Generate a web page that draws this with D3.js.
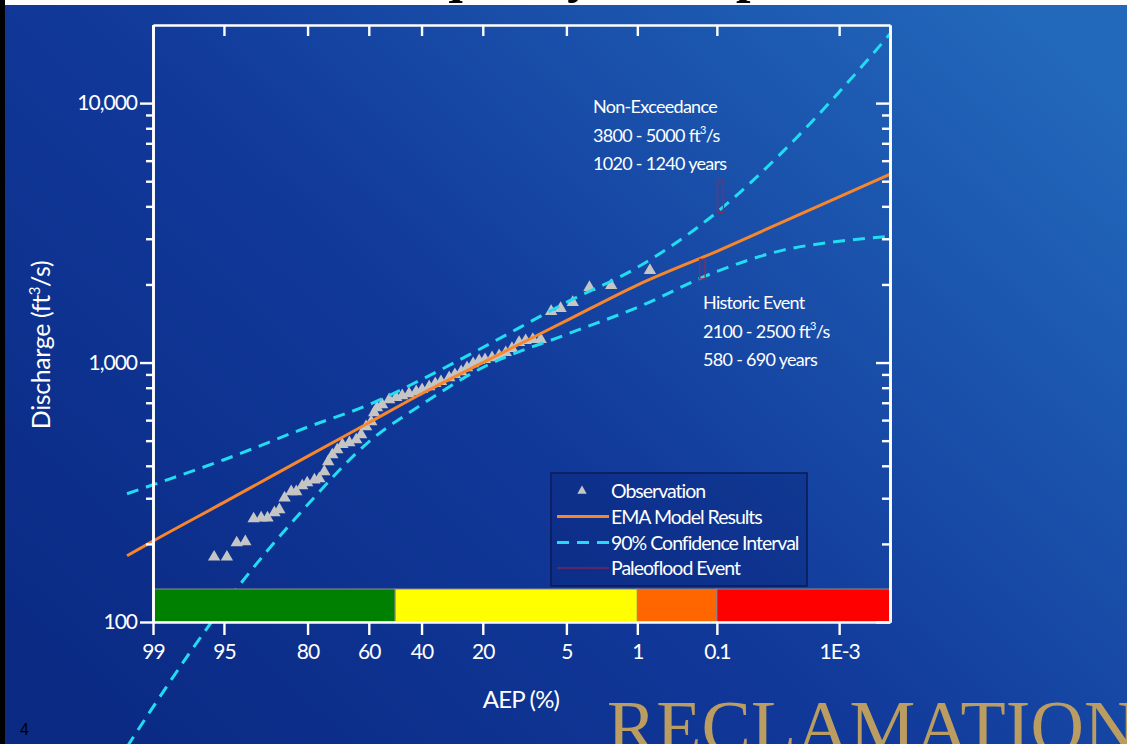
<!DOCTYPE html>
<html><head><meta charset="utf-8">
<script src="https://cdn.jsdelivr.net/npm/d3@7"></script>
<style>
html,body{margin:0;padding:0;background:#000;}
svg{display:block;}
</style></head>
<body>
<svg id="chart" width="1127" height="744"></svg>
<script>
// ---------------- DATA ----------------
// AEP grid (%) for the fitted curve and confidence limits
const aepGrid = [99.5, 99, 95, 80, 60, 40, 20, 5, 1, 0.1, 0.01, 0.001, 0.0001];
const emaQ    = [180, 205, 289, 435, 586, 758, 1000, 1450, 1989, 2685, 3477, 4350, 5315];
const upperQ  = [312, 338, 422, 564, 688, 860, 1143, 1705, 2327, 3795, 6470, 11030, 18470];
const lowerQ  = [33, 47, 116, 283, 495, 688, 957, 1283, 1631, 2245, 2707, 2933, 3066];

// Observations (plotting position AEP %, discharge ft3/s)
const obsAEP = [98.25, 95.9, 94.7, 93.6, 92.5, 91.3, 90.1, 89.0, 87.7, 86.7,
  85.6, 84.1, 82.9, 81.4, 80.1, 78.1, 76.7, 75.2, 74.0, 72.7,
  71.1, 69.4, 67.0, 64.6, 62.8, 61.0, 59.1, 58.0, 56.9, 55.0,
  52.3, 49.6, 47.3, 44.7, 42.0, 39.8, 37.2, 35.0, 33.0, 30.2,
  28.3, 26.3, 24.5, 22.7, 21.0, 19.4, 17.6, 15.9, 14.4, 13.1,
  11.7, 10.5, 9.3, 8.1, 6.7, 5.6, 4.4, 3.1, 1.9, 0.72];
const obsQ = [103, 178, 178, 202, 204, 250, 252, 252, 264, 271,
  301, 318, 318, 335, 344, 353, 357, 380, 415, 441,
  461, 483, 491, 504, 527, 566, 592, 641, 670, 688,
  720, 733, 746, 759, 773, 787, 808, 830, 845, 875,
  899, 923, 956, 991, 1018, 1027, 1045, 1064, 1093, 1133,
  1195, 1216, 1227, 1227, 1574, 1616, 1705, 1949, 1984, 2266];

// Paleoflood events
const paleoNames   = ["Non-Exceedance", "Historic Event"];
const paleoQLow    = [3800, 2100];
const paleoQHigh   = [5000, 2500];
const paleoYrLow   = [1020, 580];
const paleoYrHigh  = [1240, 690];

// Axes
const xTickAEP    = [99, 95, 80, 60, 40, 20, 5, 1, 0.1, 0.001];
const xTickLabels = ["99", "95", "80", "60", "40", "20", "5", "1", "0.1", "1E-3"];
const yMajor      = [100, 1000, 10000];
const yMinor      = [200,300,400,500,600,700,800,900,2000,3000,4000,5000,6000,7000,8000,9000];

// Risk zones (AEP % breaks) and colours
const zoneBreaks = [99, 50, 1, 0.1, 0.0001];
const zoneColors = ["#008000", "#ffff00", "#ff6600", "#ff0000"];

// --------------- HELPERS ---------------
function normInv(p){
  const a=[-3.969683028665376e+01,2.209460984245205e+02,-2.759285104469687e+02,1.383577518672690e+02,-3.066479806614716e+01,2.506628277459239e+00];
  const b=[-5.447609879822406e+01,1.615858368580409e+02,-1.556989798598866e+02,6.680131188771972e+01,-1.328068155288572e+01];
  const c=[-7.784894002430293e-03,-3.223964580411365e-01,-2.400758277161838e+00,-2.549732539343734e+00,4.374664141464968e+00,2.938163982698783e+00];
  const d=[7.784695709041462e-03,3.224671290700398e-01,2.445134137142996e+00,3.754408661907416e+00];
  const pl=0.02425, ph=1-pl; let q,r;
  if(p<pl){q=Math.sqrt(-2*Math.log(p));return (((((c[0]*q+c[1])*q+c[2])*q+c[3])*q+c[4])*q+c[5])/((((d[0]*q+d[1])*q+d[2])*q+d[3])*q+1);}
  if(p<=ph){q=p-0.5;r=q*q;return (((((a[0]*r+a[1])*r+a[2])*r+a[3])*r+a[4])*r+a[5])*q/(((((b[0]*r+b[1])*r+b[2])*r+b[3])*r+b[4])*r+1);}
  q=Math.sqrt(-2*Math.log(1-p));return -(((((c[0]*q+c[1])*q+c[2])*q+c[3])*q+c[4])*q+c[5])/((((d[0]*q+d[1])*q+d[2])*q+d[3])*q+1);
}
const zOf = a => -normInv(a/100);   // exceedance % -> standard normal variate

// --------------- LAYOUT ---------------
const W = 1127, H = 744;
const L = 153, R = 890, T = 25, B = 622;
const FONT = "Lato, 'Open Sans', sans-serif";

const xs = d3.scaleLinear().domain([zOf(99), zOf(0.0001)]).range([L, R]);
const X = a => xs(zOf(a));
const y = d3.scaleLog().domain([100, 20000]).range([B, T]);

const svg = d3.select("#chart");
const defs = svg.append("defs");
const grad = defs.append("linearGradient").attr("id","bg")
  .attr("x1","0").attr("y1","0.85").attr("x2","1").attr("y2","0.15");
grad.append("stop").attr("offset","0").attr("stop-color","#0a2a84");
grad.append("stop").attr("offset","0.45").attr("stop-color","#11399a");
grad.append("stop").attr("offset","1").attr("stop-color","#2268bb");

svg.append("rect").attr("width",W).attr("height",H).attr("fill","url(#bg)");

// slide top strip + title remnants (slide title is cut off above the frame)
svg.append("rect").attr("x",0).attr("y",0).attr("width",W).attr("height",5).attr("fill","#fff");
svg.append("text").attr("x",217).attr("y",-8)
  .attr("font-family","'Liberation Serif', 'DejaVu Serif', serif").attr("font-weight","bold")
  .attr("font-size",52).attr("fill","#000").text("Flood Frequency Example");
svg.append("rect").attr("x",0).attr("y",0).attr("width",5).attr("height",H).attr("fill","#000");

// --------------- OBSERVATIONS ---------------
const tri = d3.symbol().type(d3.symbolTriangle).size(66);
svg.append("g").selectAll("path").data(obsAEP).join("path")
  .attr("d", tri)
  .attr("transform",(d,i)=>`translate(${X(d)},${y(obsQ[i])})`)
  .attr("fill","#c5c5c5");

// --------------- CURVES ---------------
const line = d3.line().x((d,i)=>X(aepGrid[i])).y(d=>y(d)).curve(d3.curveMonotoneX);
svg.append("path").attr("d",line(upperQ)).attr("fill","none")
  .attr("stroke","#22dcf2").attr("stroke-width",3).attr("stroke-dasharray","12,8");
svg.append("path").attr("d",line(lowerQ)).attr("fill","none")
  .attr("stroke","#22dcf2").attr("stroke-width",3).attr("stroke-dasharray","12,8");
svg.append("path").attr("d",line(emaQ)).attr("fill","none")
  .attr("stroke","#f7862c").attr("stroke-width",3);

// --------------- PALEOFLOOD BOXES ---------------
svg.append("g").selectAll("rect").data(paleoNames).join("rect")
  .attr("x",(d,i)=>X(100/paleoYrLow[i]))
  .attr("width",(d,i)=>X(100/paleoYrHigh[i]) - X(100/paleoYrLow[i]))
  .attr("y",(d,i)=>y(paleoQHigh[i]))
  .attr("height",(d,i)=>y(paleoQLow[i]) - y(paleoQHigh[i]))
  .attr("fill","none").attr("stroke","#b01e3c").attr("stroke-width",1.3);

// --------------- RISK BAR ---------------
const barTop = 589;
svg.append("g").selectAll("rect").data(zoneColors).join("rect")
  .attr("x",(d,i)=>X(zoneBreaks[i]))
  .attr("width",(d,i)=>X(zoneBreaks[i+1]) - X(zoneBreaks[i]))
  .attr("y",barTop).attr("height",B-barTop)
  .attr("fill",d=>d).attr("stroke","#8c8c8c").attr("stroke-width",1);

// --------------- AXES ---------------
function styleAxis(g){
  g.selectAll(".domain").attr("stroke","#fff").attr("stroke-width",2.6);
  g.selectAll(".tick line").attr("stroke","#fff").attr("stroke-width",2.4);
  g.selectAll(".tick text").attr("fill","#fff").attr("font-family",FONT)
    .attr("font-size",21).attr("letter-spacing","-1px");
}
const zTicks = xTickAEP.map(zOf);
svg.append("g").attr("transform",`translate(0,${B})`)
  .call(d3.axisBottom(xs).tickValues(zTicks).tickFormat((d,i)=>xTickLabels[i])
        .tickSizeInner(13).tickSizeOuter(0).tickPadding(9))
  .call(styleAxis);
svg.append("g").attr("transform",`translate(0,${T})`)
  .call(d3.axisTop(xs).tickValues(zTicks).tickFormat("").tickSizeInner(-11).tickSizeOuter(0))
  .call(styleAxis);
svg.append("g").attr("transform",`translate(${L},0)`)
  .call(d3.axisLeft(y).tickValues(yMinor).tickFormat("").tickSizeInner(7).tickSizeOuter(0))
  .call(styleAxis);
svg.append("g").attr("transform",`translate(${L},0)`)
  .call(d3.axisLeft(y).tickValues(yMajor).tickFormat(d3.format(",")).tickSizeInner(13).tickSizeOuter(0).tickPadding(3))
  .call(styleAxis);
svg.append("g").attr("transform",`translate(${R},0)`)
  .call(d3.axisRight(y).tickValues(yMinor).tickFormat("").tickSizeInner(-8).tickSizeOuter(0))
  .call(styleAxis);
svg.append("g").attr("transform",`translate(${R},0)`)
  .call(d3.axisRight(y).tickValues(yMajor).tickFormat("").tickSizeInner(-14).tickSizeOuter(0))
  .call(styleAxis);

// axis titles
svg.append("text").attr("x",521).attr("y",708).attr("text-anchor","middle")
  .attr("font-family",FONT).attr("font-size",24).attr("letter-spacing","-0.8px")
  .attr("fill","#fff").text("AEP (%)");
const yt = svg.append("text").attr("transform","translate(50,345) rotate(-90)")
  .attr("text-anchor","middle").attr("font-family",FONT).attr("font-size",25)
  .attr("letter-spacing","-0.4px").attr("fill","#fff");
yt.append("tspan").text("Discharge (ft");
yt.append("tspan").attr("font-size",15).attr("dy",-10).text("3");
yt.append("tspan").attr("dy",10).text("/s)");

// --------------- ANNOTATIONS ---------------
function annot(x, y0, i){
  const g = svg.append("g").attr("font-family",FONT).attr("font-size",18)
    .attr("letter-spacing","-0.7px").attr("fill","#fff");
  g.append("text").attr("x",x).attr("y",y0).text(paleoNames[i]);
  const t = g.append("text").attr("x",x).attr("y",y0+28.5);
  t.append("tspan").text(`${paleoQLow[i]} - ${paleoQHigh[i]} ft`);
  t.append("tspan").attr("font-size",11).attr("dy",-8).text("3");
  t.append("tspan").attr("dy",8).text("/s");
  g.append("text").attr("x",x).attr("y",y0+57).text(`${paleoYrLow[i]} - ${paleoYrHigh[i]} years`);
}
annot(593, 113, 0);
annot(703, 309, 1);

// --------------- LEGEND ---------------
const lg = svg.append("g");
lg.append("rect").attr("x",551).attr("y",473).attr("width",256).attr("height",113)
  .attr("fill","rgba(8,30,110,0.3)").attr("stroke","#0b1a55").attr("stroke-width",1.5);
const items = ["Observation","EMA Model Results","90% Confidence Interval","Paleoflood Event"];
const ly = [491, 516.5, 542.5, 568];
lg.append("path").attr("d",d3.symbol().type(d3.symbolTriangle).size(38)())
  .attr("transform",`translate(582,${ly[0]})`).attr("fill","#c5c5c5");
lg.append("line").attr("x1",557).attr("x2",609).attr("y1",ly[1]).attr("y2",ly[1])
  .attr("stroke","#f7862c").attr("stroke-width",3);
lg.append("line").attr("x1",557).attr("x2",609).attr("y1",ly[2]).attr("y2",ly[2])
  .attr("stroke","#22dcf2").attr("stroke-width",3).attr("stroke-dasharray","12,8");
lg.append("line").attr("x1",557).attr("x2",609).attr("y1",ly[3]).attr("y2",ly[3])
  .attr("stroke","#b01e3c").attr("stroke-width",1.2);
lg.selectAll("text.li").data(items).join("text").attr("class","li")
  .attr("x",611).attr("y",(d,i)=>ly[i]).attr("dy","0.36em")
  .attr("font-family",FONT).attr("font-size",19.5).attr("letter-spacing","-1px")
  .attr("fill","#fff").text(d=>d);

// --------------- SLIDE DECOR ---------------
svg.append("text").attr("x",607).attr("y",752)
  .attr("font-family","'Liberation Serif', 'DejaVu Serif', serif")
  .attr("font-size",74).attr("fill","#bb9d62").text("RECLAMATION");
svg.append("text").attr("x",20).attr("y",735)
  .attr("font-family","'Liberation Sans', Arial, sans-serif")
  .attr("font-size",16).attr("fill","#000").text("4");
</script>
</body></html>
